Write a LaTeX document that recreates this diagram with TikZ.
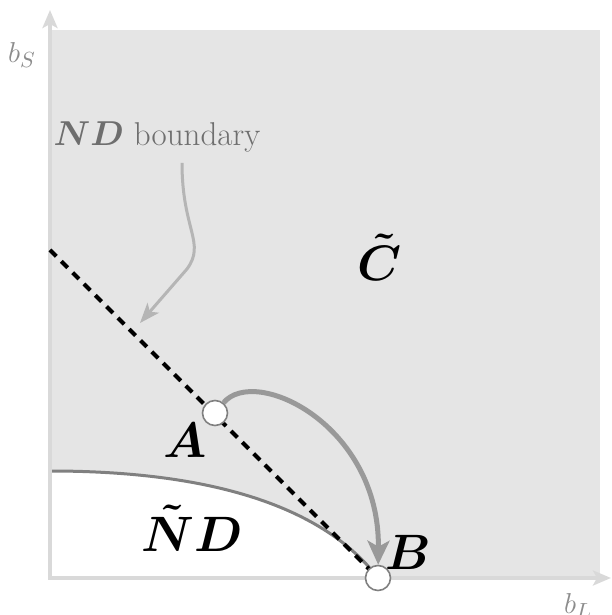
\documentclass[tikz,border=0pt]{standalone}
\usepackage{amsmath,bm}
\usepackage{tikz}
\usetikzlibrary{arrows.meta}
\definecolor{regfill}{HTML}{E5E5E5}
\definecolor{axisgray}{HTML}{D9D9D9}
\definecolor{curvegray}{HTML}{808080}
\definecolor{movegray}{HTML}{999999}
\definecolor{notegray}{HTML}{B5B5B5}
\definecolor{labelgray}{HTML}{6E6E6E}
\definecolor{axlblgray}{HTML}{8C8C8C}

\tikzset{
  axis/.style={axisgray, line width=2pt, -{Stealth[length=9pt, width=7.5pt, inset=2pt]}},
  ptnode/.style={circle, draw=curvegray, fill=white, line width=0.8pt, minimum size=12.5pt, inner sep=0pt},
  biglbl/.style={font=\fontsize{23}{28}\selectfont},
  axlbl/.style={font=\fontsize{15}{18}\selectfont, text=axlblgray},
  notelbl/.style={font=\fontsize{16.5}{20}\selectfont, text=labelgray},
  movearrow/.style={movegray, line width=2.5pt, -{Stealth[length=12pt, width=11pt, inset=3pt]}},
  notearrow/.style={notegray, line width=1.5pt, -{Stealth[length=10pt, width=7.5pt, inset=2.5pt]}}
}

\begin{document}
\begin{tikzpicture}[x=0.5pt, y=0.5pt]
\useasboundingbox (0,0) rectangle (611,615);
% regions C and ND
\fill[regfill] (50,37) rectangle (600,585);
\fill[white] (50,144) .. controls (230,144) and (330,100) .. (378,37) -- (50,37) -- cycle;
\draw[curvegray, line width=1.5pt] (50,144) .. controls (230,144) and (330,100) .. (378,37);
% axes
\coordinate (ybase) at (50,35);
\coordinate (ytip) at (50,605);
\coordinate (xbase) at (48,37);
\coordinate (xtip) at (611,37);
\draw[axis] (ybase) -- (ytip);
\draw[axis] (xbase) -- (xtip);
\node[axlbl] (bS) at (22,560) {$b_S$};
\node[axlbl] (bL) at (578,9) {$b_L$};
% ND boundary line
\coordinate (pA) at (215,202);
\coordinate (pB) at (378,37);
\coordinate (dtop) at (50,365);
\draw[black, line width=2pt, dash pattern=on 4.5pt off 3.5pt] (dtop) -- (pB);
\node[ptnode] (A) at (pA) {};
\node[ptnode] (B) at (pB) {};
\draw[movearrow] (A) .. controls (255,250) and (380,190) .. (B);
% labels
\node[biglbl] (lA) at (185,175) {$\bm{A}$};
\node[biglbl] (lB) at (408,63) {$\bm{B}$};
\node[biglbl] (lC) at (380,358) {$\bm{\tilde{C}}$};
\node[biglbl] (lND) at (192,87) {$\bm{\tilde{N}D}$};
\node[notelbl] (bnd) at (157,478) {$\bm{ND}$ boundary};
\coordinate (ns) at (182,452);
\coordinate (nt) at (140,292);
\draw[notearrow] (ns) .. controls (182,385) and (206,372) .. (187,346) -- (nt);
\end{tikzpicture}
\end{document}
